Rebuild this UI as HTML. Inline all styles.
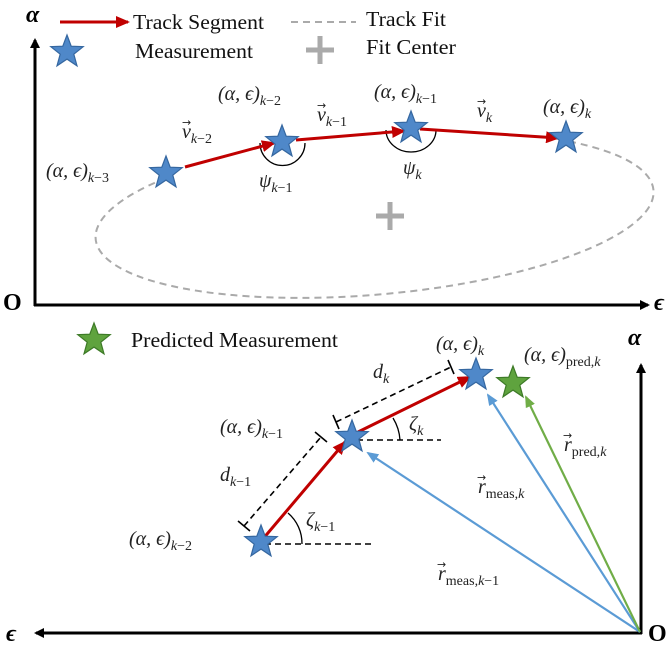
<!DOCTYPE html>
<html><head><meta charset="utf-8"><style>
html,body{margin:0;padding:0;background:#fff;}
svg{display:block;font-family:"Liberation Serif",serif;}
.m{font-family:"Liberation Serif",serif;font-size:20px;fill:#222;}
.s{font-size:14px;}
.va{font-family:"DejaVu Sans",sans-serif;font-size:11px;fill:#222;}
.leg{font-size:21px;fill:#111;}
</style></head><body>
<svg id="fig" width="670" height="650" viewBox="0 0 670 650" xmlns="http://www.w3.org/2000/svg">
<defs>
<marker id="ab" markerWidth="10" markerHeight="10" refX="8" refY="5" orient="auto" markerUnits="userSpaceOnUse"><path d="M0,0 L10,5 L0,10 z" fill="#000"/></marker>
<marker id="ar" markerWidth="14" markerHeight="12" refX="12" refY="6" orient="auto" markerUnits="userSpaceOnUse"><path d="M0,0 L14,6 L0,12 z" fill="#c00000"/></marker>
<marker id="abl" markerWidth="12" markerHeight="10" refX="10" refY="5" orient="auto" markerUnits="userSpaceOnUse"><path d="M0,0 L12,5 L0,10 z" fill="#5b9bd5"/></marker>
<marker id="ag" markerWidth="12" markerHeight="10" refX="10" refY="5" orient="auto" markerUnits="userSpaceOnUse"><path d="M0,0 L12,5 L0,10 z" fill="#70ad47"/></marker>
</defs>

<g>
<line x1="35" y1="306" x2="35" y2="40" stroke="#000" stroke-width="3" marker-end="url(#ab)"/>
<line x1="34" y1="305" x2="648" y2="305" stroke="#000" stroke-width="3" marker-end="url(#ab)"/>
<text x="26" y="22" font-size="24" font-weight="bold" font-style="italic">α</text>
<text x="3" y="310" font-size="24" font-weight="bold">O</text>
<text x="654" y="310" font-size="24" font-weight="bold" font-style="italic">ϵ</text>

<line x1="60" y1="22" x2="128" y2="22" stroke="#c00000" stroke-width="3" marker-end="url(#ar)"/>
<text class="leg" x="133" y="29" textLength="131" lengthAdjust="spacingAndGlyphs">Track Segment</text>
<text class="leg" x="135" y="58" textLength="118" lengthAdjust="spacingAndGlyphs">Measurement</text>
<line x1="291" y1="22" x2="356" y2="22" stroke="#aaa" stroke-width="2" stroke-dasharray="7,5"/>
<text class="leg" x="366" y="26" textLength="80" lengthAdjust="spacingAndGlyphs">Track Fit</text>
<g stroke="#aaa" stroke-width="5"><line x1="306" y1="50" x2="334" y2="50"/><line x1="320" y1="36" x2="320" y2="64"/></g>
<text class="leg" x="366" y="54" textLength="90" lengthAdjust="spacingAndGlyphs">Fit Center</text>

<path d="M166,178 A280 80 -5 1 0 572,142" fill="none" stroke="#aaa" stroke-width="2" stroke-dasharray="7,5"/>
<g stroke="#aaa" stroke-width="5"><line x1="376" y1="216" x2="404" y2="216"/><line x1="390" y1="202" x2="390" y2="230"/></g>

<path d="M260,143 A22 22 0 0 0 305,143" fill="none" stroke="#000" stroke-width="1.3"/>
<path d="M386,130 A25 22 0 0 0 436,130" fill="none" stroke="#000" stroke-width="1.3"/>

<line x1="185" y1="167" x2="274" y2="143" stroke="#c00000" stroke-width="3" marker-end="url(#ar)"/>
<line x1="296" y1="140" x2="404" y2="131" stroke="#c00000" stroke-width="3" marker-end="url(#ar)"/>
<line x1="420" y1="129" x2="558" y2="138" stroke="#c00000" stroke-width="3" marker-end="url(#ar)"/>

<text class="m" x="46" y="177"><tspan font-style="italic">(α, ϵ)</tspan><tspan class="s" font-style="italic" dy="5">k</tspan><tspan class="s">−3</tspan></text>
<text class="m" x="218" y="100"><tspan font-style="italic">(α, ϵ)</tspan><tspan class="s" font-style="italic" dy="5">k</tspan><tspan class="s">−2</tspan></text>
<text class="m" x="374" y="98"><tspan font-style="italic">(α, ϵ)</tspan><tspan class="s" font-style="italic" dy="5">k</tspan><tspan class="s">−1</tspan></text>
<text class="m" x="543" y="113"><tspan font-style="italic">(α, ϵ)</tspan><tspan class="s" font-style="italic" dy="5">k</tspan></text>
<text class="m" x="182" y="138"><tspan font-style="italic">v</tspan><tspan class="s" font-style="italic" dy="5">k</tspan><tspan class="s">−2</tspan></text>
<text class="va" x="182" y="126">→</text>
<text class="m" x="317" y="121"><tspan font-style="italic">v</tspan><tspan class="s" font-style="italic" dy="5">k</tspan><tspan class="s">−1</tspan></text>
<text class="va" x="317" y="109">→</text>
<text class="m" x="477" y="117"><tspan font-style="italic">v</tspan><tspan class="s" font-style="italic" dy="5">k</tspan></text>
<text class="va" x="477" y="105">→</text>
<text class="m" x="259" y="187"><tspan font-style="italic">ψ</tspan><tspan class="s" font-style="italic" dy="5">k</tspan><tspan class="s">−1</tspan></text>
<text class="m" x="403" y="174"><tspan font-style="italic">ψ</tspan><tspan class="s" font-style="italic" dy="5">k</tspan></text>
</g>

<g>
<line x1="641" y1="634" x2="641" y2="365" stroke="#000" stroke-width="3" marker-end="url(#ab)"/>
<line x1="642" y1="633" x2="36" y2="633" stroke="#000" stroke-width="3" marker-end="url(#ab)"/>
<text x="628" y="345" font-size="24" font-weight="bold" font-style="italic">α</text>
<text x="648" y="641" font-size="24" font-weight="bold">O</text>
<text x="6" y="641" font-size="24" font-weight="bold" font-style="italic">ϵ</text>

<text class="leg" x="131" y="347" textLength="207" lengthAdjust="spacingAndGlyphs">Predicted Measurement</text>

<line x1="640" y1="632" x2="368" y2="453" stroke="#5b9bd5" stroke-width="2.2" marker-end="url(#abl)"/>
<line x1="640" y1="632" x2="488" y2="395" stroke="#5b9bd5" stroke-width="2.2" marker-end="url(#abl)"/>
<line x1="640" y1="632" x2="526" y2="397" stroke="#70ad47" stroke-width="2.2" marker-end="url(#ag)"/>

<line x1="265" y1="544" x2="374" y2="544" stroke="#000" stroke-width="1.6" stroke-dasharray="6,4"/>
<line x1="357" y1="440" x2="441" y2="440" stroke="#000" stroke-width="1.6" stroke-dasharray="6,4"/>
<path d="M302,544 A40 40 0 0 0 288,513" fill="none" stroke="#000" stroke-width="1.3"/>
<path d="M400,440 A48 48 0 0 0 393,418" fill="none" stroke="#000" stroke-width="1.3"/>

<g stroke="#000" stroke-width="1.6">
<line x1="244" y1="526" x2="321" y2="437" stroke-dasharray="6,4"/>
<line x1="238" y1="521" x2="250" y2="531"/><line x1="315" y1="432" x2="327" y2="442"/>
</g>
<g stroke="#000" stroke-width="1.6">
<line x1="336" y1="422" x2="451" y2="367" stroke-dasharray="6,4"/>
<line x1="333" y1="415" x2="339" y2="429"/><line x1="448" y1="360" x2="454" y2="374"/>
</g>

<line x1="262" y1="540" x2="345" y2="442" stroke="#c00000" stroke-width="3" marker-end="url(#ar)"/>
<line x1="358" y1="432" x2="470" y2="377" stroke="#c00000" stroke-width="3" marker-end="url(#ar)"/>

<text class="m" x="436" y="350"><tspan font-style="italic">(α, ϵ)</tspan><tspan class="s" font-style="italic" dy="5">k</tspan></text>
<text class="m" x="524" y="361"><tspan font-style="italic">(α, ϵ)</tspan><tspan class="s" dy="5">pred,</tspan><tspan class="s" font-style="italic">k</tspan></text>
<text class="m" x="220" y="433"><tspan font-style="italic">(α, ϵ)</tspan><tspan class="s" font-style="italic" dy="5">k</tspan><tspan class="s">−1</tspan></text>
<text class="m" x="129" y="545"><tspan font-style="italic">(α, ϵ)</tspan><tspan class="s" font-style="italic" dy="5">k</tspan><tspan class="s">−2</tspan></text>
<text class="m" x="373" y="378"><tspan font-style="italic">d</tspan><tspan class="s" font-style="italic" dy="5">k</tspan></text>
<text class="m" x="220" y="481"><tspan font-style="italic">d</tspan><tspan class="s" font-style="italic" dy="5">k</tspan><tspan class="s">−1</tspan></text>
<text class="m" x="409" y="430"><tspan font-style="italic">ζ</tspan><tspan class="s" font-style="italic" dy="5">k</tspan></text>
<text class="m" x="306" y="526"><tspan font-style="italic">ζ</tspan><tspan class="s" font-style="italic" dy="5">k</tspan><tspan class="s">−1</tspan></text>
<text class="m" x="478" y="493"><tspan font-style="italic">r</tspan><tspan class="s" dy="5">meas,</tspan><tspan class="s" font-style="italic">k</tspan></text>
<text class="va" x="477" y="481">→</text>
<text class="m" x="564" y="451"><tspan font-style="italic">r</tspan><tspan class="s" dy="5">pred,</tspan><tspan class="s" font-style="italic">k</tspan></text>
<text class="va" x="563" y="439">→</text>
<text class="m" x="438" y="580"><tspan font-style="italic">r</tspan><tspan class="s" dy="5">meas,</tspan><tspan class="s" font-style="italic">k</tspan><tspan class="s">−1</tspan></text>
<text class="va" x="437" y="568">→</text>
</g>
<g id="stars"></g>
</svg>
<script>
const starX = [67, 166, 282, 411, 566, 261, 352, 476, 94, 513];
const starY = [52, 173, 142, 128, 138, 542, 437, 375, 340, 383];
const starKind = ['meas','meas','meas','meas','meas','meas','meas','meas','pred','pred'];
const starNames = ['legend-measurement-star','star-k-3','star-k-2','star-k-1','star-k','star-b-k-2','star-b-k-1','star-b-k','legend-predicted-star','star-predicted'];
const g = document.getElementById('stars');
function starPts(cx, cy, R){
  const r = R*0.42, p=[];
  for(let i=0;i<10;i++){
    const a = -Math.PI/2 + i*Math.PI/5, rr = i%2?r:R;
    p.push((cx+rr*Math.cos(a)).toFixed(1)+','+(cy+rr*Math.sin(a)).toFixed(1));
  }
  return p.join(' ');
}
for(let i=0;i<starX.length;i++){
  const el = document.createElementNS('http://www.w3.org/2000/svg','polygon');
  el.setAttribute('points', starPts(starX[i], starY[i], 17));
  const pred = starKind[i]==='pred';
  el.setAttribute('fill', pred ? '#5fa33e' : '#4f88c9');
  el.setAttribute('stroke', pred ? '#3d7a27' : '#3567a0');
  el.setAttribute('stroke-width', '1.2');
  
  
  g.appendChild(el);
}
</script>
</body></html>
